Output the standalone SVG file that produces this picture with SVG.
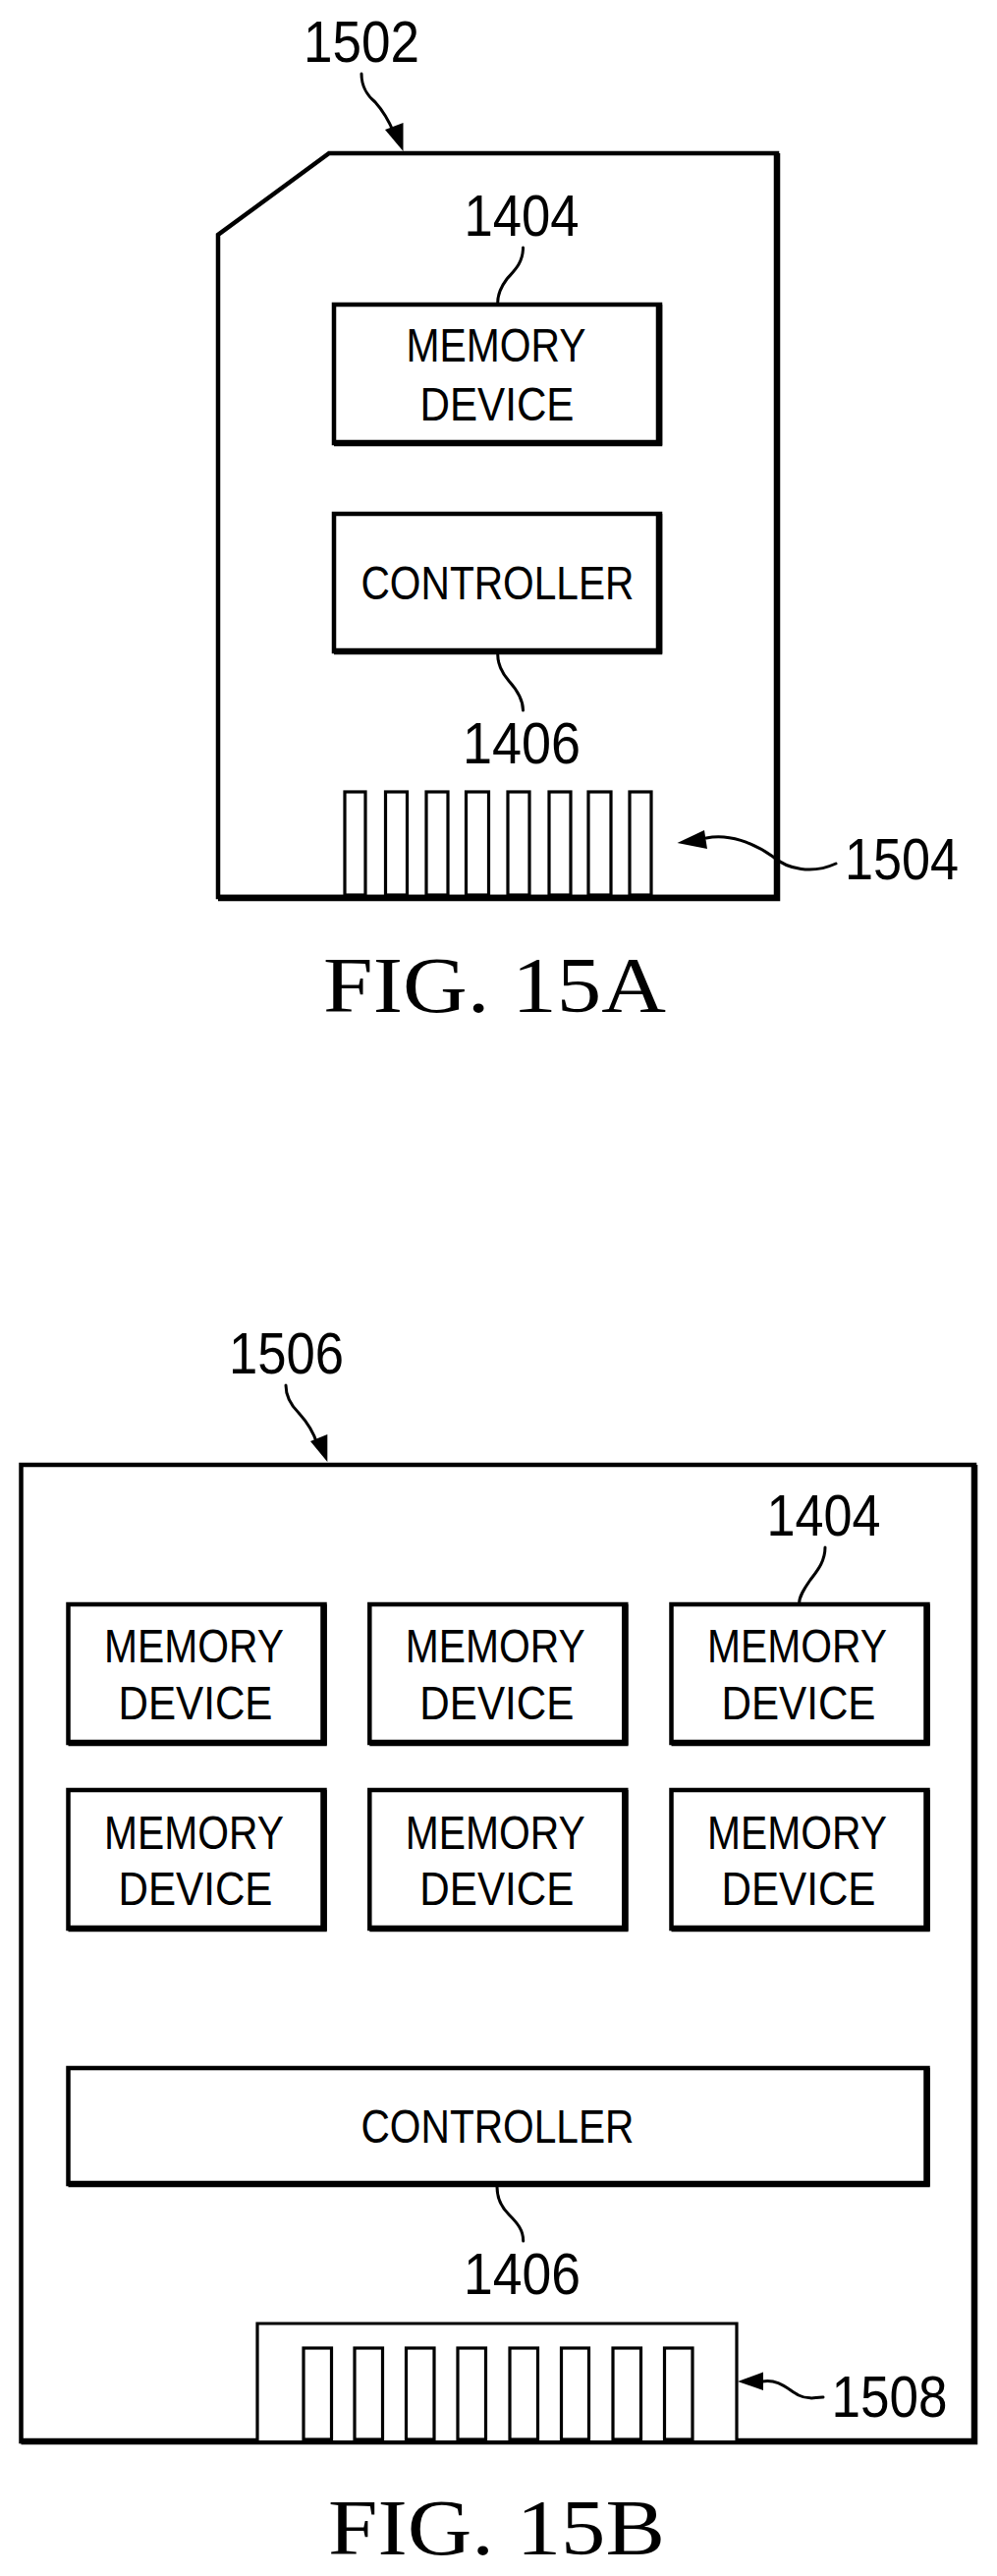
<svg xmlns="http://www.w3.org/2000/svg" width="1015" height="2622" viewBox="0 0 1015 2622">
<style>
.bg{fill:#fff}
.box{fill:#fff;stroke:#000;stroke-width:4.5}
.heavy{fill:none;stroke:#000;stroke-width:6.500;stroke-linejoin:miter}
.pin{fill:#fff;stroke:#000;stroke-width:3.200}
.lead{fill:none;stroke:#000;stroke-width:3;stroke-linecap:round}
.head{fill:#000;stroke:none}
text{fill:#000;font-family:"Liberation Sans",Arial,sans-serif}
.t{font-size:49px}
.n{font-size:60px}
.f{font-family:"Liberation Serif","Times New Roman",serif;font-size:80px}
</style>
<rect class="bg" width="1015" height="2622"/>

<g id="card-1502">
<path class="box" d="M335 156H791V913H222V239Z"/>
<path class="heavy" d="M791 156V914H222"/>
</g>
<g id="memory-a">
<rect class="box" x="340" y="310" width="332" height="141"/>
<path class="heavy" d="M671 310V451H340"/>
<text class="t" x="413.500" y="368" textLength="183" lengthAdjust="spacingAndGlyphs">MEMORY</text>
<text class="t" x="427.500" y="428" textLength="157" lengthAdjust="spacingAndGlyphs">DEVICE</text>
</g>
<g id="controller-a">
<rect class="box" x="340" y="523" width="332" height="140"/>
<path class="heavy" d="M671 523V663H340"/>
<text class="t" x="367.500" y="610" textLength="278" lengthAdjust="spacingAndGlyphs">CONTROLLER</text>
</g>
<g id="pins-1504">
<rect class="pin" x="351" y="806" width="21" height="105"/>
<rect class="pin" x="392.500" y="806" width="22" height="105"/>
<rect class="pin" x="434" y="806" width="22" height="105"/>
<rect class="pin" x="474.500" y="806" width="23" height="105"/>
<rect class="pin" x="517" y="806" width="22" height="105"/>
<rect class="pin" x="559" y="806" width="22" height="105"/>
<rect class="pin" x="599" y="806" width="23" height="105"/>
<rect class="pin" x="641" y="806" width="22" height="105"/>
</g>

<g id="ssd-1506">
<rect class="box" x="21.500" y="1491" width="970.500" height="994"/>
<path class="heavy" d="M992 1491V2485H21.500"/>
</g>
<g id="memory-b1">
<rect class="box" x="69.500" y="1633" width="261" height="141"/>
<path class="heavy" d="M329.500 1633V1774H69.500"/>
<text class="t" x="106" y="1692" textLength="183" lengthAdjust="spacingAndGlyphs">MEMORY</text>
<text class="t" x="120.500" y="1750" textLength="157" lengthAdjust="spacingAndGlyphs">DEVICE</text>
</g>
<g id="memory-b2">
<rect class="box" x="376.300" y="1633" width="261" height="141"/>
<path class="heavy" d="M636.300 1633V1774H376.300"/>
<text class="t" x="412.800" y="1692" textLength="183" lengthAdjust="spacingAndGlyphs">MEMORY</text>
<text class="t" x="427.300" y="1750" textLength="157" lengthAdjust="spacingAndGlyphs">DEVICE</text>
</g>
<g id="memory-b3">
<rect class="box" x="683.500" y="1633" width="261" height="141"/>
<path class="heavy" d="M943.500 1633V1774H683.500"/>
<text class="t" x="720" y="1692" textLength="183" lengthAdjust="spacingAndGlyphs">MEMORY</text>
<text class="t" x="734.500" y="1750" textLength="157" lengthAdjust="spacingAndGlyphs">DEVICE</text>
</g>
<g id="memory-b4">
<rect class="box" x="69.500" y="1822" width="261" height="141"/>
<path class="heavy" d="M329.500 1822V1963H69.500"/>
<text class="t" x="106" y="1882" textLength="183" lengthAdjust="spacingAndGlyphs">MEMORY</text>
<text class="t" x="120.500" y="1939" textLength="157" lengthAdjust="spacingAndGlyphs">DEVICE</text>
</g>
<g id="memory-b5">
<rect class="box" x="376.300" y="1822" width="261" height="141"/>
<path class="heavy" d="M636.300 1822V1963H376.300"/>
<text class="t" x="412.800" y="1882" textLength="183" lengthAdjust="spacingAndGlyphs">MEMORY</text>
<text class="t" x="427.300" y="1939" textLength="157" lengthAdjust="spacingAndGlyphs">DEVICE</text>
</g>
<g id="memory-b6">
<rect class="box" x="683.500" y="1822" width="261" height="141"/>
<path class="heavy" d="M943.500 1822V1963H683.500"/>
<text class="t" x="720" y="1882" textLength="183" lengthAdjust="spacingAndGlyphs">MEMORY</text>
<text class="t" x="734.500" y="1939" textLength="157" lengthAdjust="spacingAndGlyphs">DEVICE</text>
</g>
<g id="controller-b">
<rect class="box" x="69.500" y="2105" width="875" height="118"/>
<path class="heavy" d="M943.500 2105V2223H69.500"/>
<text class="t" x="367.500" y="2181" textLength="278" lengthAdjust="spacingAndGlyphs">CONTROLLER</text>
</g>
<g id="connector-1508">
<path class="pin" d="M262 2484V2365H750V2484"/>
<rect class="pin" x="309" y="2390" width="28.500" height="93"/>
<rect class="pin" x="361" y="2390" width="28.500" height="93"/>
<rect class="pin" x="413.500" y="2390" width="28.500" height="93"/>
<rect class="pin" x="466" y="2390" width="28.500" height="93"/>
<rect class="pin" x="519" y="2390" width="28.500" height="93"/>
<rect class="pin" x="571.500" y="2390" width="28" height="93"/>
<rect class="pin" x="624" y="2390" width="28.500" height="93"/>
<rect class="pin" x="676.500" y="2390" width="28.500" height="93"/>
</g>

<g id="connectors">
<path class="lead" d="M368 75C368 90 375 98 382 104C391 114 398 128 401 135"/>
<polygon class="head" points="410.500,154 392,132 410.500,125"/>
<path class="lead" d="M532.500 252C532.500 268 523 276 516 284C510 292 506.700 300 506.700 308"/>
<path class="lead" d="M506.700 666C506.700 678 512 686 518 693C527 703 532.500 712 532.500 723"/>
<path class="lead" d="M719 853C742 848 767 858 787 872C802 885 827 890 851 879"/>
<polygon class="head" points="689.500,858 717,845 720,864"/>
<path class="lead" d="M291 1410C291 1422 296 1430 304 1438C314 1449 320 1460 323 1470"/>
<polygon class="head" points="333.300,1488 316,1467 333.300,1460"/>
<path class="lead" d="M840 1575C840 1590 831 1600 825 1608C818 1618 813.600 1625 813.600 1632"/>
<path class="lead" d="M506 2226C506 2238 511 2247 518 2254C527 2263 532.700 2270 532.700 2281"/>
<path class="lead" d="M776 2424C793 2421 803 2433 813 2438C821 2442 829 2441 838 2440"/>
<polygon class="head" points="751,2424 777,2414.500 777,2433"/>
</g>

<g id="labels">
<text class="n" x="309" y="63" textLength="118" lengthAdjust="spacingAndGlyphs">1502</text>
<text class="n" x="472.500" y="240" textLength="117" lengthAdjust="spacingAndGlyphs">1404</text>
<text class="n" x="471" y="777" textLength="120" lengthAdjust="spacingAndGlyphs">1406</text>
<text class="n" x="860" y="895" textLength="116" lengthAdjust="spacingAndGlyphs">1504</text>
<text class="n" x="233" y="1398" textLength="117" lengthAdjust="spacingAndGlyphs">1506</text>
<text class="n" x="780.500" y="1563" textLength="116" lengthAdjust="spacingAndGlyphs">1404</text>
<text class="n" x="472" y="2335" textLength="119" lengthAdjust="spacingAndGlyphs">1406</text>
<text class="n" x="846.500" y="2460" textLength="118" lengthAdjust="spacingAndGlyphs">1508</text>
<text class="f" x="329" y="1030" textLength="349" lengthAdjust="spacingAndGlyphs">FIG. 15A</text>
<text class="f" x="334" y="2600" textLength="343" lengthAdjust="spacingAndGlyphs">FIG. 15B</text>
</g>
</svg>
